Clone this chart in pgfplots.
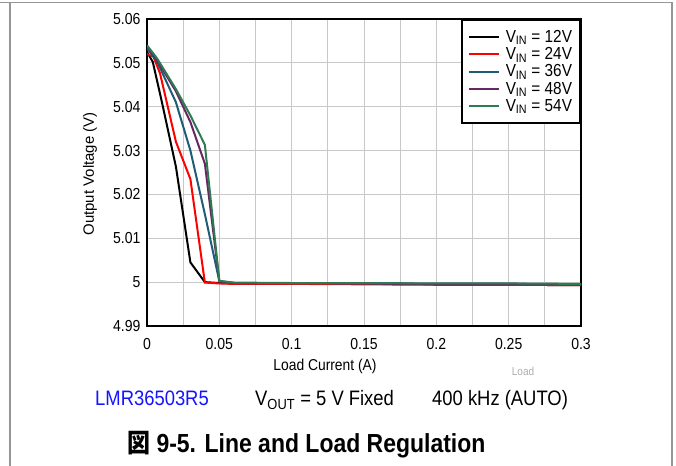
\documentclass[border=0pt]{standalone}
\usepackage{pgfplots}
\pgfplotsset{compat=1.18}
\usepackage{fontspec}
\setmainfont{Liberation Sans}[FakeStretch=0.88]
\newfontfamily\plainsans{Liberation Sans}
\newfontfamily\cjk{Noto Sans CJK JP}[FakeStretch=0.88]
\definecolor{c12}{RGB}{0,0,0}
\definecolor{c24}{RGB}{255,0,0}
\definecolor{c36}{RGB}{31,92,118}
\definecolor{c48}{RGB}{104,38,98}
\definecolor{c54}{RGB}{46,122,82}
\definecolor{gridc}{RGB}{200,200,200}
\definecolor{framec}{RGB}{150,150,150}
\definecolor{tiblue}{RGB}{20,20,255}
\begin{document}
\begin{tikzpicture}[x=1bp,y=1bp]
\useasboundingbox (0,0) rectangle (676,466);
% page frame
\draw[framec, line width=1.3bp] (10,0) -- (10,463.5);
\draw[framec, line width=1.3bp] (0,463.5) -- (672,463.5) -- (672,0);
\begin{axis}[
  at={(147bp,140bp)}, anchor=south west,
  scale only axis, width=434bp, height=307bp,
  xmin=0, xmax=0.3, ymin=4.99, ymax=5.06,
  xtick={0,0.05,0.1,0.15,0.2,0.25,0.3},
  xticklabels={0,0.05,0.1,0.15,0.2,0.25,0.3},
  minor xtick={0.025,0.075,0.125,0.175,0.225,0.275},
  ytick={4.99,5,5.01,5.02,5.03,5.04,5.05,5.06},
  yticklabels={4.99,5,5.01,5.02,5.03,5.04,5.05,5.06},
  major tick length=0pt, minor tick length=0pt,
  xmajorgrids, xminorgrids, ymajorgrids,
  grid style={gridc, line width=1bp},
  minor grid style={gridc, line width=1bp},
  axis line style={black, line width=2.6bp},
  tick label style={font=\fontsize{16}{17}\selectfont},
  /pgf/number format/assume math mode=true,
  xticklabel style={yshift=-9bp},
  yticklabel style={xshift=-3bp},
  legend style={at={(1,1)}, anchor=north east, draw=black, line width=2bp, fill=white,
    font=\fontsize{17.5}{19}\selectfont, inner xsep=6bp, inner ysep=8bp, row sep=-0.3bp},
  legend cell align=left,
  legend image code/.code={\draw[#1, line width=2bp] (0bp,0bp) -- (30bp,0bp); \path (34bp,0bp);},
  every axis plot/.append style={line width=2bp},
]
\addplot[c12] coordinates {(0,5.0525) (0.004,5.0502) (0.01,5.0415) (0.02,5.0263) (0.03,5.0045) (0.04,5.0000) (0.05,4.9998) (0.06,4.9997) (0.1,4.9997) (0.15,4.9996) (0.2,4.9995) (0.25,4.9994) (0.3,4.9993)};
\addlegendentry{V\textsubscript{IN} = 12V}
\addplot[c24] coordinates {(0,5.0520) (0.0045,5.0514) (0.009,5.0476) (0.02,5.0320) (0.03,5.0235) (0.04,4.9999) (0.05,4.9997) (0.06,4.9996) (0.1,4.9996) (0.15,4.9995) (0.2,4.9994) (0.25,4.9994) (0.3,4.9993)};
\addlegendentry{V\textsubscript{IN} = 24V}
\addplot[c36] coordinates {(0,5.0533) (0.007,5.0503) (0.02,5.0410) (0.03,5.0300) (0.04,5.0155) (0.05,5.0002) (0.06,4.9998) (0.1,4.9998) (0.15,4.9997) (0.2,4.9996) (0.25,4.9996) (0.3,4.9995)};
\addlegendentry{V\textsubscript{IN} = 36V}
\addplot[c48] coordinates {(0,5.0537) (0.007,5.0506) (0.02,5.0435) (0.03,5.0365) (0.04,5.0270) (0.05,5.0002) (0.06,4.9998) (0.1,4.9998) (0.15,4.9997) (0.2,4.9996) (0.25,4.9996) (0.3,4.9995)};
\addlegendentry{V\textsubscript{IN} = 48V}
\addplot[c54] coordinates {(0,5.0540) (0.007,5.0510) (0.02,5.0440) (0.03,5.0380) (0.04,5.0313) (0.05,5.0003) (0.06,4.9999) (0.1,4.9998) (0.15,4.9998) (0.2,4.9997) (0.25,4.9997) (0.3,4.9996)};
\addlegendentry{V\textsubscript{IN} = 54V}
\end{axis}
% axis titles
\node[rotate=90, font=\plainsans\fontsize{15}{17}\selectfont] at (90,292) {Output Voltage (V)};
\node[font=\fontsize{15.8}{17}\selectfont] at (325,100) {Load Current (A)};
\node[font=\fontsize{11.5}{13}\selectfont, text=black!32] at (523,95) {Load};
% bottom texts
\node[anchor=base west, inner sep=0, font=\fontsize{21}{23}\selectfont, text=tiblue] at (95,60) {LMR36503R5};
\node[anchor=base west, inner sep=0, font=\fontsize{21}{23}\selectfont] at (255,60) {V\textsubscript{OUT} = 5 V Fixed};
\node[anchor=base west, inner sep=0, font=\fontsize{21}{23}\selectfont] at (432,60) {400 kHz (AUTO)};
\node[anchor=base west, inner sep=0, font=\bfseries\fontsize{26.2}{28}\selectfont] at (127,13) {{\cjk\bfseries 図} 9-5. Line and Load Regulation};
\end{tikzpicture}
\end{document}
